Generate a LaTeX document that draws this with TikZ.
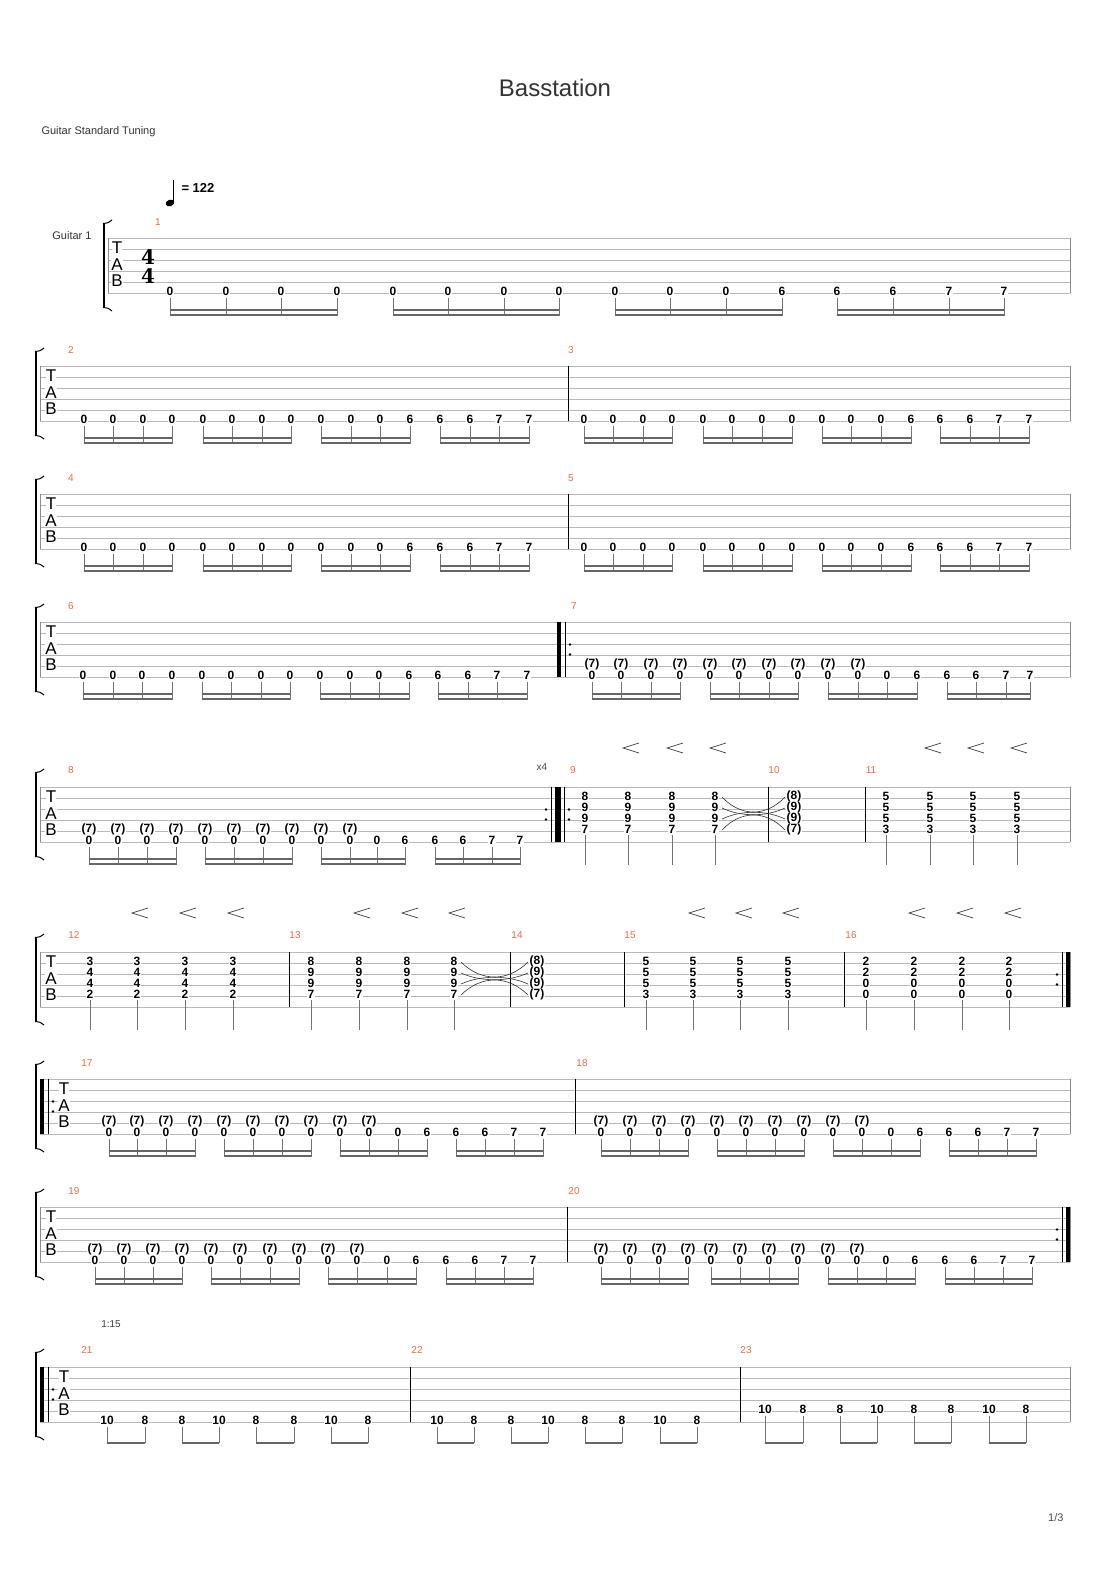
\documentclass[tikz,border=0pt]{standalone}
\usepackage{fontspec}
\setmainfont{Liberation Sans}
\newfontfamily\tsf{DejaVu Serif}
\usetikzlibrary{calc}
\definecolor{mred}{HTML}{F26B3A}
\tikzset{x=1pt,y=-1pt,
 sline/.style={draw=black!28,line width=0.7pt},
 num/.style={font=\bfseries\fontsize{12}{12}\selectfont,fill=white,inner sep=0.3pt},
 mnum/.style={text=mred,font=\fontsize{10}{10}\selectfont},
 tabl/.style={font=\fontsize{17}{17}\selectfont,fill=white,inner sep=0.3pt},
 stem/.style={draw=black!55,line width=0.7pt},
 beam/.style={draw=black!60,line width=2.2pt},
 bar/.style={draw=black,line width=0.8pt},
 hpin/.style={draw=black!75,line width=0.7pt}}
\newcommand\staff[4]{% top,left,right,tabx
 \foreach \k in {0,...,5} \draw[sline] (#2,#1+11*\k) -- (#3,#1+11*\k);
 \draw[black!45] (#2,#1)--(#2,#1+55); \draw[black!45] (#3,#1)--(#3,#1+55);
 \node[tabl] at (#4,#1+10) {T};
 \node[tabl] at (#4,#1+27) {A};
 \node[tabl] at (#4,#1+43) {B};}
\newcommand\brk[2]{%
 \draw[line width=2.6pt] (#1,#2-14)--(#1,#2+69);
 \draw[line width=1pt] (#1-1,#2-14.5) .. controls (#1+4,#2-15) .. (#1+8,#2-18);
 \draw[line width=1pt] (#1-1,#2+69.5) .. controls (#1+4,#2+70) .. (#1+8,#2+73);}
\newcommand\sxt[3]{%
 \foreach \x [count=\i] in {#1} {
   \ifnum\i<12 \def\v{0}\else\ifnum\i<15 \def\v{6}\else\def\v{7}\fi\fi
   \node[num] (t\i) at (\x,#2-2) {\v};
   \ifnum#3=1 \ifnum\i<11 \node[num] at (\x,#2-13) {(7)};\fi\fi
   \draw[stem] (\x,#2+5) -- (\x,#2+23);
   \coordinate (q\i) at (\x,#2);
 }
 \foreach \a/\b in {1/4,5/8,9/12,13/16} {
   \draw[beam] ($(q\a)+(-0.35,17)$) -- ($(q\b)+(0.35,17)$);
   \draw[beam] ($(q\a)+(-0.35,22)$) -- ($(q\b)+(0.35,22)$);}}
\newcommand\chd[7]{% x, y string2, four numbers, stem flag
 \node[num] at (#1,#2-2) {#3};
 \node[num] at (#1,#2+9) {#4};
 \node[num] at (#1,#2+20) {#5};
 \node[num] at (#1,#2+31) {#6};
 \ifnum#7=1 \draw[stem] (#1,#2+37)--(#1,#2+67);\fi}
\newcommand\hp[2]{\draw[hpin] (#1+8,#2-5)--(#1-8,#2)--(#1+8,#2+5);}
\newcommand\tiexx[3]{% x1,x2,y2
 \foreach \k/\b in {0/20,1/9,2/-9,3/-20}
   \draw[black!80,line width=0.6pt] (#1+7,#3+11*\k-1) .. controls ($(#1+7,#3+11*\k-1)!0.3!(#2-9,#3+11*\k-1)+(0,\b)$) and ($(#1+7,#3+11*\k-1)!0.7!(#2-9,#3+11*\k-1)+(0,\b)$) .. (#2-9,#3+11*\k-1);}
\newcommand\rdots[2]{\fill (#1,#2+22.5) circle (1.4); \fill (#1,#2+32.5) circle (1.4);}
\newcommand\rstart[2]{\draw[line width=3.5pt] (#1,#2)--(#1,#2+55); \draw[bar] (#1+6,#2)--(#1+6,#2+55); \rdots{#1+11}{#2}}
\newcommand\rend[2]{\draw[line width=3.5pt] (#1,#2)--(#1,#2+55); \draw[bar] (#1-6,#2)--(#1-6,#2+55); \rdots{#1-11}{#2}}
\newcommand\vbar[2]{\draw[bar] (#1,#2)--(#1,#2+55);}
\begin{document}
\begin{tikzpicture}
\useasboundingbox[fill=white] (0,0) rectangle (1110,1570);
\node[font=\fontsize{24}{24}\selectfont,text=black!80] (title) at (555,88) {Basstation};
\node[anchor=west,font=\fontsize{11}{11}\selectfont,text=black!80] (tun) at (38,132) {Guitar Standard Tuning};
\node[anchor=east,font=\fontsize{11}{11}\selectfont,text=black!70] (pg) at (1067,1518) {1/3};
% tempo
\fill[rotate around={20:(170,203)}] (170,203) ellipse (4.5 and 3.2);
\draw[line width=0.9pt] (173.9,202) -- (173.9,180);
\node[anchor=west,font=\bfseries\fontsize{13}{13}\selectfont] (tempo) at (178,188) {= 122};
% system 1
\node[font=\fontsize{11}{11}\selectfont,text=black!80] (g1) at (72,236) {Guitar 1};
\brk{104}{238}
\staff{238}{108}{1070}{117}
\node[font=\tsf\bfseries\fontsize{20}{20}\selectfont] (ts1) at (148,257) {4};
\node[font=\tsf\bfseries\fontsize{20}{20}\selectfont] (ts2) at (148,276) {4};
\node[mnum] at (158,222) {1};
\sxt{170,226,281,337,393,448,504,559,615,670,726,782,837,893,949,1004}{293}{0}
% system 2
\brk{36}{366}\staff{366}{40}{1070}{51}
\node[mnum] at (71,350) {2}; \node[mnum] at (571,350) {3};
\sxt{84,113,143,172,203,232,262,291,321,351,380,410,440,470,499,529}{421}{0}
\vbar{568}{366}
\sxt{584,613,643,672,703,732,762,792,822,851,881,911,940,970,999,1029}{421}{0}
% system 3
\brk{36}{494}\staff{494}{40}{1070}{51}
\node[mnum] at (71,478) {4}; \node[mnum] at (571,478) {5};
\sxt{84,113,143,172,203,232,262,291,321,351,380,410,440,470,499,529}{549}{0}
\vbar{568}{494}
\sxt{584,613,643,672,703,732,762,792,822,851,881,911,940,970,999,1029}{549}{0}
% system 4
\brk{36}{622}\staff{622}{40}{1070}{51}
\node[mnum] at (71,606) {6}; \node[mnum] at (574,606) {7};
\sxt{83,113,142,172,202,231,261,290,320,350,379,409,438,468,497,527}{677}{0}
\rstart{559}{622}
\sxt{592,621,651,680,710,739,769,798,828,858,887,917,947,976,1006,1030}{677}{1}
% system 5
\brk{36}{787}\staff{787}{40}{1070}{51}
\node[mnum] at (71,770) {8}; \node[mnum] at (573,770) {9};
\node[mnum] at (774,770) {10}; \node[mnum] at (871,770) {11};
\node[font=\fontsize{10}{10}\selectfont,text=black!70] at (542,767) {x4};
\sxt{89,118,147,176,205,234,263,292,321,350,377,405,435,463,492,520}{842}{1}
\draw[bar] (551,787)--(551,842); \draw[line width=6pt] (557.5,787)--(557.5,842); \draw[bar] (564,787)--(564,842);
\rdots{546}{787}\rdots{569}{787}
\chd{585}{798}{8}{9}{9}{7}{1}\chd{628}{798}{8}{9}{9}{7}{1}
\chd{672}{798}{8}{9}{9}{7}{1}\chd{715}{798}{8}{9}{9}{7}{1}
\hp{631}{748}\hp{675}{748}\hp{718}{748}
\vbar{768}{787}
\chd{794}{798}{(8)}{(9)}{(9)}{(7)}{0}
\tiexx{715}{794}{798}
\vbar{865}{787}
\chd{886}{798}{5}{5}{5}{3}{1}\chd{930}{798}{5}{5}{5}{3}{1}
\chd{973}{798}{5}{5}{5}{3}{1}\chd{1017}{798}{5}{5}{5}{3}{1}
\hp{933}{748}\hp{976}{748}\hp{1019}{748}
% system 6
\brk{36}{952}\staff{952}{40}{1070}{51}
\node[mnum] at (74,935) {12}; \node[mnum] at (295,935) {13}; \node[mnum] at (517,935) {14};
\node[mnum] at (630,935) {15}; \node[mnum] at (851,935) {16};
\chd{90}{963}{3}{4}{4}{2}{1}\chd{137}{963}{3}{4}{4}{2}{1}
\chd{185}{963}{3}{4}{4}{2}{1}\chd{233}{963}{3}{4}{4}{2}{1}
\hp{140}{913}\hp{188}{913}\hp{236}{913}
\vbar{289}{952}
\chd{311}{963}{8}{9}{9}{7}{1}\chd{359}{963}{8}{9}{9}{7}{1}
\chd{407}{963}{8}{9}{9}{7}{1}\chd{454}{963}{8}{9}{9}{7}{1}
\hp{362}{913}\hp{410}{913}\hp{457}{913}
\vbar{510}{952}
\chd{537}{963}{(8)}{(9)}{(9)}{(7)}{0}
\tiexx{454}{537}{963}
\vbar{624}{952}
\chd{646}{963}{5}{5}{5}{3}{1}\chd{693}{963}{5}{5}{5}{3}{1}
\chd{740}{963}{5}{5}{5}{3}{1}\chd{788}{963}{5}{5}{5}{3}{1}
\hp{697}{913}\hp{744}{913}\hp{791}{913}
\vbar{844}{952}
\chd{866}{963}{2}{2}{0}{0}{1}\chd{914}{963}{2}{2}{0}{0}{1}
\chd{962}{963}{2}{2}{0}{0}{1}\chd{1009}{963}{2}{2}{0}{0}{1}
\hp{917}{913}\hp{965}{913}\hp{1013}{913}
\rend{1068}{952}
% system 7
\brk{36}{1079}\staff{1079}{40}{1070}{64}
\rstart{42}{1079}
\node[mnum] at (87,1063) {17}; \node[mnum] at (582,1063) {18};
\sxt{109,137,166,195,224,253,282,311,340,369,398,427,456,485,514,543}{1134}{1}
\vbar{575}{1079}
\sxt{601,630,659,688,717,746,775,804,833,862,891,920,949,978,1007,1036}{1134}{1}
% system 8
\brk{36}{1207}\staff{1207}{40}{1070}{51}
\node[mnum] at (74,1191) {19}; \node[mnum] at (574,1191) {20};
\sxt{95,124,153,182,211,240,270,299,328,357,387,416,446,475,504,533}{1262}{1}
\vbar{567}{1207}
\sxt{601,630,659,688,711,740,769,798,828,857,886,915,945,974,1003,1032}{1262}{1}
\rend{1068}{1207}
% system 9
\node[font=\fontsize{10}{10}\selectfont,text=black!75] at (111,1324) {1:15};
\brk{36}{1367}\staff{1367}{40}{1070}{64}
\rstart{42}{1367}
\node[mnum] at (87,1350) {21}; \node[mnum] at (417,1350) {22}; \node[mnum] at (746,1350) {23};
\foreach \xa/\va/\xb/\vb in {107/10/145/8,182/8/219/10,256/8/294/8,331/10/368/8,437/10/474/8,511/8/548/10,585/8/622/8,660/10/697/8}{
  \node[num] at (\xa,1420) {\va}; \node[num] at (\xb,1420) {\vb};
  \draw[stem] (\xa,1427)--(\xa,1443); \draw[stem] (\xb,1427)--(\xb,1443);
  \draw[beam,line width=1.8pt] (\xa-0.35,1443)--(\xb+0.35,1443);}
\foreach \xa/\va/\xb/\vb in {765/10/803/8,840/8/877/10,914/8/951/8,989/10/1026/8}{
  \node[num] at (\xa,1409) {\va}; \node[num] at (\xb,1409) {\vb};
  \draw[stem] (\xa,1416)--(\xa,1443); \draw[stem] (\xb,1416)--(\xb,1443);
  \draw[beam,line width=1.8pt] (\xa-0.35,1443)--(\xb+0.35,1443);}
\vbar{410}{1367}\vbar{740}{1367}
\end{tikzpicture}
\end{document}
